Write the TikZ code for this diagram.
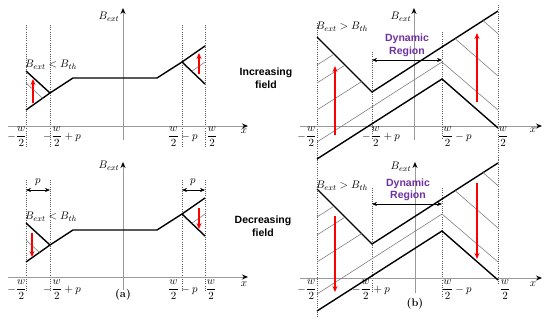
\documentclass[tikz,border=0pt]{standalone}
\usepackage{fontspec}
\newfontfamily\labelsans{Liberation Sans}
\usetikzlibrary{arrows.meta}
\definecolor{dynpurple}{RGB}{112,48,160}
\definecolor{arrred}{RGB}{255,0,0}
\newcommand{\panelbshapes}{%
  \draw[thickline] (317,37) -- (372,92) -- (498,11);
  \draw[thickline] (317,159) -- (442,79) -- (498,128);
  \draw[hatch] (317,142) -- (442,62) -- (498,110);
  \draw[hatch] (317,110) -- (361.6,81.6);
  \draw[hatch] (317,83) -- (345.1,65.1);
  \draw[hatch] (317,65) -- (334.1,54.1);
  \draw[hatch] (455,38.6) -- (498,76);
  \draw[hatch] (483,20.6) -- (498,33.7);
}
\newcommand{\panelashapes}{%
  \draw[thickline] (26,71) -- (50,93);
  \draw[thickline] (26,110) -- (50,93) -- (73,78) -- (157,78) -- (182,62) -- (205,46);
  \draw[thickline] (182,62) -- (205,84);
  \draw[hatch] (205,62) -- (191.7,71.3);
}
\begin{document}
\begin{tikzpicture}[x=1pt,y=-1pt,
  axisline/.style={draw=gray!80, line width=0.9pt, -{Stealth[length=6pt,width=5pt,color=black]}},
  guide/.style={draw=black!65, line width=0.6pt, dash pattern=on 0.9pt off 1.3pt},
  thickline/.style={draw=black, line width=1.4pt},
  hatch/.style={draw=gray, line width=0.6pt},
  redarrow/.style={color=arrred, line width=1.3pt, -{Stealth[length=6pt,width=5pt]}},
  dimarrow/.style={draw=black, line width=0.5pt, {Stealth[length=5pt,width=4pt]}-{Stealth[length=5pt,width=4pt]}},
  mlbl/.style={inner sep=0pt, font=\fontsize{11}{13}\selectfont},
  sidelbl/.style={font=\labelsans\bfseries\fontsize{10.5}{12.5}\selectfont, align=center, inner sep=0pt},
  dynlbl/.style={sidelbl, text=dynpurple}]
\useasboundingbox (0,0) rectangle (550,325);

% ================= Panel (a), top =================
\foreach \gx in {26,50,182,205} \draw[guide] (\gx,25) -- (\gx,148);
\coordinate (aTx0) at (8,126); \coordinate (aTx1) at (248,126);
\coordinate (aTy0) at (123,140); \coordinate (aTy1) at (123,8);
\draw[axisline] (aTx0) -- (aTx1);
\draw[axisline] (aTy0) -- (aTy1);
\panelashapes
\draw[hatch] (26,83) -- (42.6,98.2);
\draw[redarrow] (33,103) -- (33,79);
\draw[redarrow] (199,74) -- (199,53);
\node[mlbl] (aTB) at (109,17) {$B_{ext}$};
\node[mlbl] (aTc) at (51,65) {$B_{ext} < B_{th}$};
\node[mlbl] (aTxl) at (244,131) {$x$};
\node[mlbl] (aTt1) at (17,137) {$-\displaystyle\frac{w}{2}$};
\node[mlbl] (aTt2) at (62,137) {$-\displaystyle\frac{w}{2}+p$};
\node[mlbl] (aTt3) at (183,137) {$\displaystyle\frac{w}{2}-p$};
\node[mlbl] (aTt4) at (212,137) {$\displaystyle\frac{w}{2}$};

% ================= Panel (a), bottom =================
\foreach \gx in {26,50,182,205} \draw[guide] (\gx,180) -- (\gx,292);
\coordinate (aBx0) at (8,277); \coordinate (aBx1) at (248,277);
\coordinate (aBy0) at (123,290); \coordinate (aBy1) at (123,162);
\draw[axisline] (aBx0) -- (aBx1);
\draw[axisline] (aBy0) -- (aBy1);
\begin{scope}[shift={(0,152)}]
  \panelashapes
\end{scope}
\draw[hatch] (26,240) -- (39.5,252.4);
\draw[redarrow] (32,233) -- (32,257);
\draw[redarrow] (199,208) -- (199,229);
\coordinate (pL0) at (26,190); \coordinate (pL1) at (50,190);
\coordinate (pR0) at (182,190); \coordinate (pR1) at (205,190);
\draw[dimarrow] (pL0) -- (pL1);
\draw[dimarrow] (pR0) -- (pR1);
\node[mlbl] (pLl) at (38,182) {$p$};
\node[mlbl] (pRl) at (193,182) {$p$};
\node[mlbl] (aBB) at (109,166) {$B_{ext}$};
\node[mlbl] (aBc) at (51,217) {$B_{ext} < B_{th}$};
\node[mlbl] (aBxl) at (244,284) {$x$};
\node[mlbl] (aBt1) at (17,290) {$-\displaystyle\frac{w}{2}$};
\node[mlbl] (aBt2) at (62,290) {$-\displaystyle\frac{w}{2}+p$};
\node[mlbl] (aBt3) at (183,290) {$\displaystyle\frac{w}{2}-p$};
\node[mlbl] (aBt4) at (211,290) {$\displaystyle\frac{w}{2}$};
\node[font=\bfseries\fontsize{11}{13}\selectfont, inner sep=0pt] (alab) at (123,295) {(a)};

% ================= side labels =================
\node[sidelbl] (inc) at (266,78) {Increasing\\field};
\node[sidelbl] (dec) at (263,226) {Decreasing\\field};

% ================= Panel (b), top =================
\draw[guide] (317,23) -- (317,160);
\draw[guide] (372,52) -- (372,138);
\draw[guide] (442,32) -- (442,138);
\draw[guide] (498,5) -- (498,160);
\coordinate (bTx0) at (300,126); \coordinate (bTx1) at (542,126);
\coordinate (bTy0) at (414,140); \coordinate (bTy1) at (414,8);
\draw[axisline] (bTx0) -- (bTx1);
\draw[axisline] (bTy0) -- (bTy1);
\panelbshapes
\draw[redarrow] (335,135) -- (335,66);
\draw[redarrow] (477,102) -- (477,33);
\coordinate (dT0) at (372,60); \coordinate (dT1) at (442,60);
\draw[dimarrow] (dT0) -- (dT1);
\node[dynlbl] (dynT) at (407,45.5) {Dynamic\\Region};
\node[mlbl] (bTB) at (401,17) {$B_{ext}$};
\node[mlbl] (bTc) at (342,27) {$B_{ext} > B_{th}$};
\node[mlbl] (bTxl) at (533,130) {$x$};
\node[mlbl] (bTt1) at (307,137) {$-\displaystyle\frac{w}{2}$};
\node[mlbl] (bTt2) at (381,137) {$-\displaystyle\frac{w}{2}+p$};
\node[mlbl] (bTt3) at (457,137) {$\displaystyle\frac{w}{2}-p$};
\node[mlbl] (bTt4) at (503,137) {$\displaystyle\frac{w}{2}$};

% ================= Panel (b), bottom =================
\draw[guide] (317,160) -- (317,317);
\draw[guide] (372,188) -- (372,292);
\draw[guide] (442,188) -- (442,298);
\draw[guide] (498,160) -- (498,285);
\coordinate (bBx0) at (300,278); \coordinate (bBx1) at (542,278);
\coordinate (bBy0) at (415,293); \coordinate (bBy1) at (415,162);
\draw[axisline] (bBx0) -- (bBx1);
\draw[axisline] (bBy0) -- (bBy1);
\begin{scope}[shift={(0,152)}]
  \panelbshapes
\end{scope}
\draw[redarrow] (335,216) -- (335,292);
\draw[redarrow] (477,183) -- (477,259);
\coordinate (dB0) at (372,204); \coordinate (dB1) at (442,204);
\draw[dimarrow] (dB0) -- (dB1);
\node[dynlbl] (dynB) at (408,190) {Dynamic\\Region};
\node[mlbl] (bBB) at (401,167) {$B_{ext}$};
\node[mlbl] (bBc) at (342,186) {$B_{ext} > B_{th}$};
\node[mlbl] (bBxl) at (533,284) {$x$};
\node[mlbl] (bBt1) at (307,290) {$-\displaystyle\frac{w}{2}$};
\node[mlbl] (bBt2) at (371,290) {$-\displaystyle\frac{w}{2}+p$};
\node[mlbl] (bBt3) at (457,290) {$\displaystyle\frac{w}{2}-p$};
\node[mlbl] (bBt4) at (505,290) {$\displaystyle\frac{w}{2}$};
\node[font=\bfseries\fontsize{11}{13}\selectfont, inner sep=0pt] (blab) at (415,304) {(b)};
\end{tikzpicture}
\end{document}
